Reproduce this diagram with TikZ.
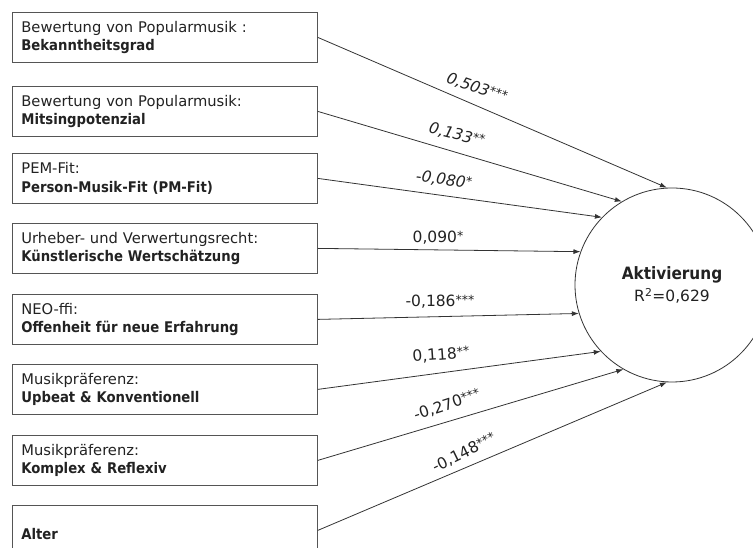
\documentclass[tikz,border=0pt]{standalone}
\usepackage{fontspec}
\setmainfont{DejaVu Sans}[BoldFont={DejaVu Sans Condensed Bold}]
\usetikzlibrary{arrows.meta}
\definecolor{boxline}{HTML}{555555}
\definecolor{txt}{HTML}{222222}
\definecolor{conn}{HTML}{333333}
\newcommand\sigstars[1]{\raisebox{2.5pt}{\fontsize{12.5}{12.5}\selectfont #1}}
\tikzset{
  box/.style={draw=boxline, line width=0.8pt, anchor=north west, minimum width=305pt,
    minimum height=50pt, text width=287pt, inner xsep=9pt, inner ysep=2pt, align=left,
    text=txt, font=\fontsize{14.7}{18.5}\selectfont},
  target/.style={draw=conn, line width=0.8pt, circle, minimum size=194pt, inner sep=0pt,
    align=center, text=txt, font=\fontsize{15.5}{22}\selectfont},
  conarrow/.style={draw=conn, line width=0.8pt, -{Latex[length=7pt,width=5pt]}},
  lbl/.style={text=txt, inner sep=1pt, font=\fontsize{15.5}{18}\selectfont}
}
\begin{document}
\begin{tikzpicture}[x=1pt,y=1pt]
\useasboundingbox (0,0) rectangle (753,548);
\node[box] (b1) at (12,536) {Bewertung von Popularmusik :\\\textbf{Bekanntheitsgrad}};
\node[box] (b2) at (12,462) {Bewertung von Popularmusik:\\\textbf{Mitsingpotenzial}};
\node[box] (b3) at (12,395) {PEM-Fit:\\\textbf{Person-Musik-Fit (PM-Fit)}};
\node[box] (b4) at (12,325) {Urheber- und Verwertungsrecht:\\\textbf{Künstlerische Wertschätzung}};
\node[box] (b5) at (12,254) {NEO-ffi:\\\textbf{Offenheit für neue Erfahrung}};
\node[box] (b6) at (12,184) {Musikpräferenz:\\\textbf{Upbeat \& Konventionell}};
\node[box] (b7) at (12,113) {Musikpräferenz:\\\textbf{Komplex \& Reflexiv}};
\node[box] (b8) at (12,43) {\mbox{}\\\textbf{Alter}};
\node[target] (c) at (672,263) {{\fontsize{17}{22}\selectfont\textbf{Aktivierung}}\\R\textsuperscript{2}=0,629};
\draw[conarrow] (b1.east) -- (c.93.5);
\draw[conarrow] (b2.east) -- (c.121);
\draw[conarrow] (b3.east) -- (c.136.6);
\draw[conarrow] (b4.east) -- (c.160.8);
\draw[conarrow] (b5.east) -- (c.197.5);
\draw[conarrow] (b6.east) -- (c.223.8);
\draw[conarrow] (b7.east) -- (c.240.4);
\draw[conarrow] (b8.east) -- (c.267.7);
\node[lbl, rotate=-19] (l1) at (477,460) {\itshape 0,503\sigstars{***}};
\node[lbl, rotate=-14] (l2) at (457,413) {\itshape 0,133\sigstars{**}};
\node[lbl, rotate=-8] (l3) at (444,368) {\itshape -0,080\sigstars{*}};
\node[lbl] (l4) at (438,310) {0,090\sigstars{*}};
\node[lbl] (l5) at (440,246) {-0,186\sigstars{***}};
\node[lbl, rotate=4] (l6) at (441,193) {0,118\sigstars{**}};
\node[lbl, rotate=18] (l7) at (447,143) {-0,270\sigstars{***}};
\node[lbl, rotate=26] (l8) at (464,95) {-0,148\sigstars{***}};
\end{tikzpicture}
\end{document}
